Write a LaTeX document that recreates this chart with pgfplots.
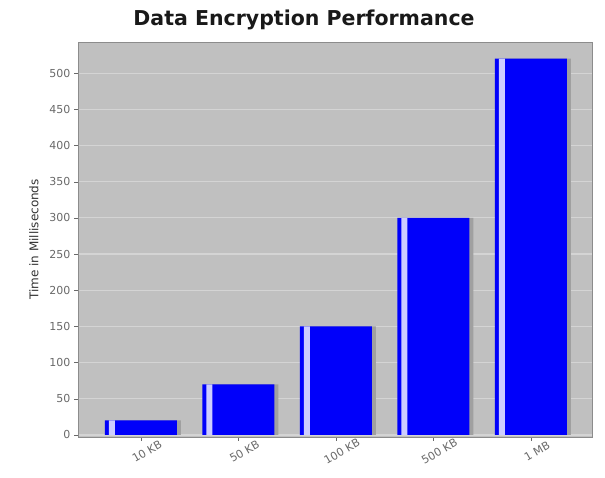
\documentclass[border=0pt]{standalone}
\usepackage{pgfplots}
\pgfplotsset{compat=1.18}
\usepackage{fontspec}
\setmainfont{DejaVu Sans}
\definecolor{bgc}{RGB}{192,192,192}
\definecolor{gridc}{RGB}{212,212,212}
\definecolor{shadowc}{RGB}{160,160,160}
\definecolor{stripec}{RGB}{205,205,255}
\definecolor{barc}{RGB}{0,0,250}
\definecolor{tickc}{RGB}{105,105,105}
\definecolor{borderc}{RGB}{140,140,140}
\begin{document}
\begin{tikzpicture}
\path[use as bounding box] (0,0) rectangle (605pt,478pt);
\node[font=\fontsize{20.5}{24}\selectfont\bfseries, text=black!90] at (304pt,458pt) {Data Encryption Performance};
\begin{axis}[
  at={(78pt,41pt)}, anchor=south west,
  scale only axis, width=514pt, height=395pt,
  xmin=-0.646, xmax=4.626, ymin=-2.8, ymax=543,
  xtick={0,1,2,3,4},
  xticklabels={10 KB,50 KB,100 KB,500 KB,1 MB},
  ytick={0,50,...,500},
  axis background/.style={fill=bgc},
  axis line style={draw=borderc},
  ymajorgrids, grid style={gridc, line width=1.2pt},
  tick style={draw=tickc},
  tick align=outside, major tick length=4pt,
  xtick pos=bottom, ytick pos=left,
  /pgf/number format/assume math mode=true,
  ticklabel style={font=\fontsize{11}{13}\selectfont, text=tickc},
  xticklabel style={rotate=30, anchor=center, yshift=-12pt},
  ylabel={Time in Milliseconds},
  ylabel style={font=\fontsize{12}{14}\selectfont, text=black!80, yshift=4pt},
]
\addplot[ybar, bar width=72pt, bar shift=4pt, fill=shadowc, draw=none]
  coordinates {(0,20) (1,70) (2,150) (3,300) (4,520)};
\addplot[ybar, bar width=72pt, bar shift=0pt, fill=barc, draw=none]
  coordinates {(0,20) (1,70) (2,150) (3,300) (4,520)};
\addplot[ybar, bar width=6pt, bar shift=-29pt, fill=stripec, draw=none]
  coordinates {(0,20) (1,70) (2,150) (3,300) (4,520)};
\end{axis}
\end{tikzpicture}
\end{document}
